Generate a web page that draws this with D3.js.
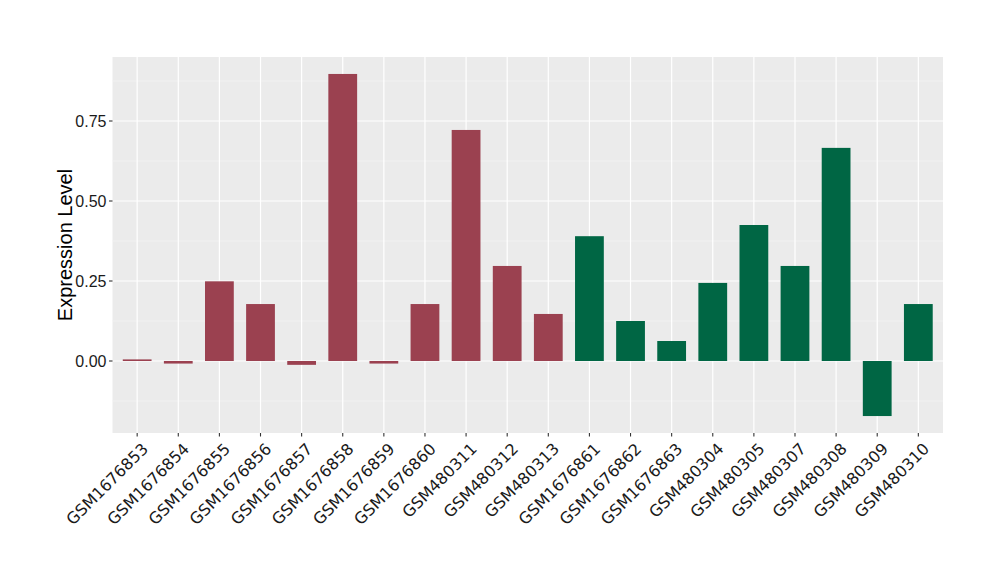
<!DOCTYPE html>
<html><head><meta charset="utf-8">
<script src="https://cdn.jsdelivr.net/npm/d3@7"></script>
<style>body{margin:0;background:#fff}</style>
</head><body>
<svg id="c" width="1000" height="580"></svg>
<script>
const categories = ["GSM1676853","GSM1676854","GSM1676855","GSM1676856","GSM1676857","GSM1676858","GSM1676859","GSM1676860","GSM480311","GSM480312","GSM480313","GSM1676861","GSM1676862","GSM1676863","GSM480304","GSM480305","GSM480307","GSM480308","GSM480309","GSM480310"];
const values = [0.005,-0.008,0.249,0.178,-0.012,0.897,-0.008,0.178,0.722,0.297,0.147,0.390,0.125,0.0625,0.244,0.425,0.297,0.666,-0.172,0.178];
const groups = ["A","A","A","A","A","A","A","A","A","A","A","B","B","B","B","B","B","B","B","B"];
const yTicks = [0,0.25,0.5,0.75];
const yTickLabels = ["0.00","0.25","0.50","0.75"];
const yMinor = [-0.125,0.125,0.375,0.625,0.875];
const groupColors = {A:"#9b4150", B:"#006644"};

const svg = d3.select("#c");
const L=112.5, R=943, T=57, B=433;
const y = d3.scaleLinear().domain([-0.225,0.95]).range([B,T]);
const step = (R-L)/(categories.length-1+1.2);
const x = d3.scalePoint().domain(categories).range([L+step*0.6, R-step*0.6]);
const bw = step*0.7;

svg.append("rect").attr("x",L).attr("y",T).attr("width",R-L).attr("height",B-T).attr("fill","#ebebeb");
const g = svg.append("g");
yMinor.forEach(v=>g.append("line").attr("x1",L).attr("x2",R).attr("y1",y(v)).attr("y2",y(v)).attr("stroke","#f5f5f5").attr("stroke-width",0.6));
yTicks.forEach(v=>g.append("line").attr("x1",L).attr("x2",R).attr("y1",y(v)).attr("y2",y(v)).attr("stroke","#fff").attr("stroke-width",1.2));
categories.forEach(c=>g.append("line").attr("x1",x(c)).attr("x2",x(c)).attr("y1",T).attr("y2",B).attr("stroke","#fff").attr("stroke-width",1.2));

g.selectAll("rect.bar").data(categories).enter().append("rect").attr("class","bar")
  .attr("x",c=>x(c)-bw/2).attr("width",bw)
  .attr("y",(c,i)=>y(Math.max(0,values[i])))
  .attr("height",(c,i)=>Math.abs(y(values[i])-y(0)))
  .attr("fill",(c,i)=>groupColors[groups[i]]);

// y axis
yTicks.forEach((v,i)=>{
  svg.append("line").attr("x1",L-3.5).attr("x2",L).attr("y1",y(v)).attr("y2",y(v)).attr("stroke","#333").attr("stroke-width",1.1);
  svg.append("text").attr("x",L-6).attr("y",y(v)).attr("dy","0.36em").attr("text-anchor","end")
    .attr("font-family","Liberation Sans, Arial, sans-serif").attr("font-size",16).attr("fill","#1a1a1a").text(yTickLabels[i]);
});
svg.append("text").attr("transform",`translate(72,${(T+B)/2}) rotate(-90)`).attr("text-anchor","middle")
  .attr("font-family","Liberation Sans, Arial, sans-serif").attr("font-size",20).attr("fill","#000").text("Expression Level");

// x axis
categories.forEach(c=>{
  svg.append("line").attr("x1",x(c)).attr("x2",x(c)).attr("y1",B).attr("y2",B+3.5).attr("stroke","#333").attr("stroke-width",1.1);
  svg.append("text").attr("transform",`translate(${x(c)+4},${B+9}) rotate(-45)`).attr("text-anchor","end").attr("dy","0.7em")
    .attr("font-family","DejaVu Sans, sans-serif").attr("font-size",16).attr("fill","#1a1a1a").text(c);
});
</script>
</body></html>
